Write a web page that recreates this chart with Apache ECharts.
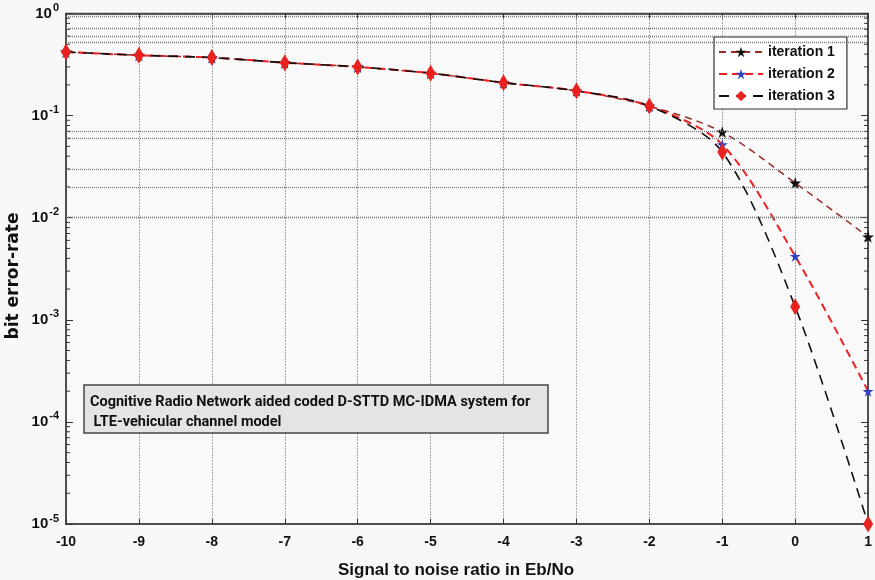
<!DOCTYPE html>
<html>
<head>
<meta charset="utf-8">
<script src="https://cdn.jsdelivr.net/npm/echarts@6/dist/echarts.min.js"></script>
<style>
html,body{margin:0;padding:0;background:#f8f8f8;}
#chart{width:875px;height:580px;}
</style>
</head>
<body>
<div id="chart"></div>
<script>
// SNR points (Eb/No)
var snr = [-10, -9, -8, -7, -6, -5, -4, -3, -2, -1, 0, 1];
// bit error rate per iteration
var iter1 = [0.42, 0.39, 0.37, 0.33, 0.30, 0.26, 0.21, 0.175, 0.124, 0.069, 0.0219, 0.0065];
var iter2 = [0.42, 0.39, 0.37, 0.33, 0.30, 0.26, 0.21, 0.175, 0.124, 0.052, 0.0042, 0.0002];
var iter3 = [0.42, 0.39, 0.37, 0.33, 0.30, 0.26, 0.21, 0.175, 0.124, 0.044, 0.00134, 0.00001];
// dotted horizontal grid lines as they appear in the figure
var gridValues = [0.94, 0.71, 0.6, 0.52, 0.072, 0.062, 0.03, 0.02, 0.0089, 0.0082, 0.005, 0.004,
	0.00081, 0.00062, 0.00031, 0.00021, 0.000092, 0.000082, 0.000051, 0.000041];
var decades = [1e-5, 1e-4, 1e-3, 1e-2, 1e-1];
var minorTicks = [];
decades.forEach(function(d){
	for (var k = 2; k <= 9; k++) minorTicks.push(d * k);
});

var star = 'path://M50,0 L61,35 L98,35 L68,57 L79,91 L50,70 L21,91 L32,57 L2,35 L39,35 Z';
var font = 'Liberation Sans';

function pairs(ys){
	return snr.map(function(x, i){ return [x, ys[i]]; });
}

var myChart = echarts.init(document.getElementById('chart'));
var option = {
	animation : false,
	backgroundColor : '#f8f8f8',
	grid : {
		left : 66, right : 5, top : 13.5, bottom : 56,
		show : true, borderColor : '#444', borderWidth : 1.5, backgroundColor : '#f9f9f9'
	},
	legend : {
		data : ['iteration 1', 'iteration 2', 'iteration 3'],
		orient : 'vertical',
		left : 714, top : 37,
		padding : [8, 12, 6, 4],
		itemGap : 8,
		itemWidth : 44, itemHeight : 13,
		backgroundColor : '#ffffff',
		borderColor : '#333', borderWidth : 1.2,
		textStyle : { fontFamily : font, fontWeight : 'bold', fontSize : 14, color : '#111' }
	},
	xAxis : [ {
		type : 'value', min : -10, max : 1, interval : 1,
		axisLine : { onZero : false, lineStyle : { color : '#444', width : 1.5 } },
		axisTick : { inside : true, length : 5, lineStyle : { color : '#333' } },
		axisLabel : { fontFamily : font, fontWeight : 'bold', fontSize : 14, color : '#111', margin : 11 },
		splitLine : { show : true, lineStyle : { type : [1, 2], color : '#555', width : 1 } }
	}, {
		type : 'value', position : 'top', min : -10, max : 1, interval : 1,
		axisLine : { show : true, onZero : false, lineStyle : { color : '#444', width : 1.5 } },
		axisTick : { inside : true, length : 5, lineStyle : { color : '#333' } },
		axisLabel : { show : false },
		splitLine : { show : false }
	} ],
	yAxis : [ {
		type : 'log', logBase : 10, min : 1e-5, max : 1,
		axisLine : { show : true, onZero : false, lineStyle : { color : '#444', width : 1.5 } },
		axisTick : { show : true, inside : true, length : 7, lineStyle : { color : '#333' } },
		splitLine : { show : false },
		axisLabel : {
			margin : 7,
			formatter : function(v){
				var e = Math.round(Math.log(v) / Math.LN10);
				return '{b|10}{s|' + e + '}';
			},
			rich : {
				b : { fontFamily : font, fontWeight : 'bold', fontSize : 15, color : '#111' },
				s : { fontFamily : font, fontWeight : 'bold', fontSize : 11, color : '#111', padding : [0, 0, 11, 1] }
			}
		}
	}, {
		type : 'log', logBase : 10, min : 1e-5, max : 1, position : 'right',
		axisLine : { show : true, onZero : false, lineStyle : { color : '#444', width : 1.5 } },
		axisTick : { show : true, inside : true, length : 7, lineStyle : { color : '#333' } },
		axisLabel : { show : false },
		splitLine : { show : false }
	} ],
	graphic : [ {
		type : 'text', x : 14, y : 276, rotation : Math.PI / 2,
		style : { text : 'bit error-rate', fontFamily : 'DejaVu Sans', fontWeight : 'bold', fontSize : 17, fill : '#111',
			align : 'center', verticalAlign : 'middle' }
	}, {
		type : 'text', x : 456, y : 570,
		style : { text : 'Signal to noise ratio in Eb/No', fontFamily : font, fontWeight : 'bold', fontSize : 17, fill : '#111',
			align : 'center', verticalAlign : 'middle' }
	}, {
		type : 'rect', shape : { x : 84, y : 385, width : 464, height : 48 },
		style : { fill : '#e4e4e4', stroke : '#444', lineWidth : 1.5 }, z : 10
	}, {
		type : 'text', x : 90, y : 392, z : 11,
		style : { text : 'Cognitive Radio Network aided coded D-STTD MC-IDMA system for\n LTE-vehicular channel model',
			fontFamily : 'Roboto', fontWeight : 'bold', fontSize : 14.5, fill : '#111', lineHeight : 20 }
	} ],
	series : [ {
		// horizontal dotted grid
		name : 'hgrid', type : 'line', data : [], silent : true,
		markLine : {
			silent : true, symbol : ['none', 'none'], label : { show : false },
			lineStyle : { type : [1, 1], color : '#777', width : 1.3 },
			data : gridValues.map(function(v){ return { yAxis : v }; })
		}
	}, {
		// minor log ticks on left and right
		name : 'minor', type : 'custom', silent : true, clip : false,
		data : minorTicks.map(function(v){ return [-10, v]; }),
		renderItem : function(params, api){
			var v = api.value(1);
			var a = api.coord([-10, v]);
			var b = api.coord([1, v]);
			return { type : 'group', children : [
				{ type : 'line', shape : { x1 : a[0], y1 : a[1], x2 : a[0] + 4, y2 : a[1] }, style : { stroke : '#333', lineWidth : 1 } },
				{ type : 'line', shape : { x1 : b[0] - 4, y1 : b[1], x2 : b[0], y2 : b[1] }, style : { stroke : '#333', lineWidth : 1 } }
			] };
		}
	}, {
		name : 'iteration 1', type : 'line', smooth : 0.3, z : 3,
		data : pairs(iter1),
		symbol : star, symbolSize : 12,
		itemStyle : { color : '#111' },
		lineStyle : { color : '#9b2a2a', width : 1.5, type : [7, 5] }
	}, {
		name : 'iteration 2', type : 'line', smooth : 0.3, z : 4,
		data : pairs(iter2),
		symbol : star, symbolSize : 11,
		itemStyle : { color : '#3444c0' },
		lineStyle : { color : '#ee2222', width : 2, type : [8, 5] }
	}, {
		name : 'iteration 3', type : 'line', smooth : 0.3, z : 5,
		data : pairs(iter3),
		symbol : 'diamond', symbolSize : [10, 17],
		itemStyle : { color : '#e8231f' },
		lineStyle : { color : '#111', width : 1.6, type : [10, 7] }
	} ]
};
myChart.setOption(option);
</script>
</body>
</html>
